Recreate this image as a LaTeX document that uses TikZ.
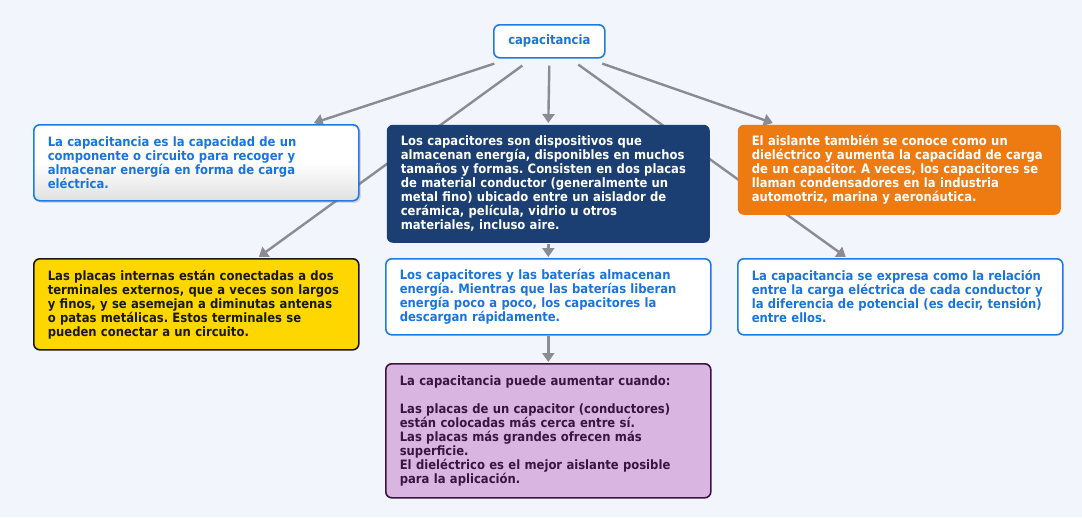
\documentclass[tikz,border=0pt]{standalone}
\usepackage{fontspec}
\setmainfont[FakeStretch=0.9]{DejaVu Sans}
\usetikzlibrary{arrows.meta,shadows,calc}
\frenchspacing
\definecolor{bg}{HTML}{F3F5FD}
\definecolor{bblue}{HTML}{1E7BE3}
\definecolor{tblue}{HTML}{1A74DB}
\definecolor{navy}{HTML}{1B3F73}
\definecolor{orng}{HTML}{EE7A12}
\definecolor{yell}{HTML}{FFD700}
\definecolor{purp}{HTML}{D9B5E1}
\definecolor{dpurp}{HTML}{3B1541}
\definecolor{conn}{HTML}{8A8C91}
\pgfdeclarelayer{background}
\pgfsetlayers{background,main}
\tikzset{
  box/.style={rectangle, rounded corners=6pt, anchor=north west, inner xsep=14pt, inner ysep=4pt, align=left, line width=1.6pt},
  whitebox/.style={box, draw=bblue, fill=white, text=tblue},
  arr/.style={draw=conn, line width=2.4pt, -{Triangle[width=12pt,length=9pt]}}
}
\begin{document}
\begin{tikzpicture}[x=1pt,y=-1pt, font=\bfseries\fontsize{12.9}{14}\selectfont]
\useasboundingbox (0,0) rectangle (1082,517);

\node[whitebox, minimum width=111pt, minimum height=33pt, align=center, inner xsep=4pt] (cap) at (493,24) {capacitancia};

\node[box, draw=bblue, top color=white, bottom color=black!12, middle color=white, text=tblue, drop shadow={shadow xshift=2pt, shadow yshift=-2pt, opacity=0.25},
  minimum width=325pt, minimum height=76pt, text width=297pt] (left) at (33,124)
  {La capacitancia es la capacidad de un\\componente o circuito para recoger y\\almacenar energía en forma de carga\\eléctrica.};

\node[box, fill=navy, text=white, minimum width=323pt, minimum height=118pt, text width=295pt] (dark) at (386,124)
  {Los capacitores son dispositivos que\\almacenan energía, disponibles en muchos\\tamaños y formas. Consisten en dos placas\\de material conductor (generalmente un\\metal fino) ubicado entre un aislador de\\cerámica, película, vidrio u otros\\materiales, incluso aire.};

\node[box, fill=orng, text=white, minimum width=323pt, minimum height=90pt, text width=295pt] (orange) at (737,124)
  {El aislante también se conoce como un\\dieléctrico y aumenta la capacidad de carga\\de un capacitor. A veces, los capacitores se\\llaman condensadores en la industria\\automotriz, marina y aeronáutica.};

\node[box, draw=black!90, fill=yell, text=black!90, minimum width=325pt, minimum height=91pt, text width=297pt] (yellow) at (33,258)
  {Las placas internas están conectadas a dos\\terminales externos, que a veces son largos\\y finos, y se asemejan a diminutas antenas\\o patas metálicas. Estos terminales se\\pueden conectar a un circuito.};

\node[whitebox, minimum width=325pt, minimum height=76pt, text width=297pt] (mid) at (385,258)
  {Los capacitores y las baterías almacenan\\energía. Mientras que las baterías liberan\\energía poco a poco, los capacitores la\\descargan rápidamente.};

\node[whitebox, minimum width=325pt, minimum height=76pt, text width=297pt] (right) at (737,258)
  {La capacitancia se expresa como la relación\\entre la carga eléctrica de cada conductor y\\la diferencia de potencial (es decir, tensión)\\entre ellos.};

\node[box, draw=dpurp, fill=purp, text=dpurp, minimum width=325pt, minimum height=134pt, text width=297pt] (purple) at (385,363)
  {La capacitancia puede aumentar cuando:\\[14pt]Las placas de un capacitor (conductores)\\están colocadas más cerca entre sí.\\Las placas más grandes ofrecen más\\superficie.\\El dieléctrico es el mejor aislante posible\\para la aplicación.};

\begin{pgfonlayer}{background}
\fill[bg] (0,0) rectangle (1082,517);
\draw[arr] ([xshift=-55pt,yshift=-5pt]cap.south) -- ([xshift=117.5pt,yshift=1pt]left.north);
\draw[arr] ([xshift=-27pt,yshift=-7pt]cap.south) -- ([xshift=62.5pt,yshift=1pt]yellow.north);
\draw[arr] ([yshift=-7pt]cap.south) -- ([yshift=1pt]dark.north);
\draw[arr] ([xshift=29pt,yshift=-6pt]cap.south) -- ([xshift=-54.5pt,yshift=1pt]right.north);
\draw[arr] ([xshift=53pt,yshift=-5pt]cap.south) -- ([xshift=-126.5pt,yshift=1pt]orange.north);
\draw[arr] (dark.south) -- ([yshift=1pt]mid.north);
\draw[arr] (mid.south) -- ([yshift=1pt]purple.north);
\end{pgfonlayer}
\end{tikzpicture}
\end{document}
